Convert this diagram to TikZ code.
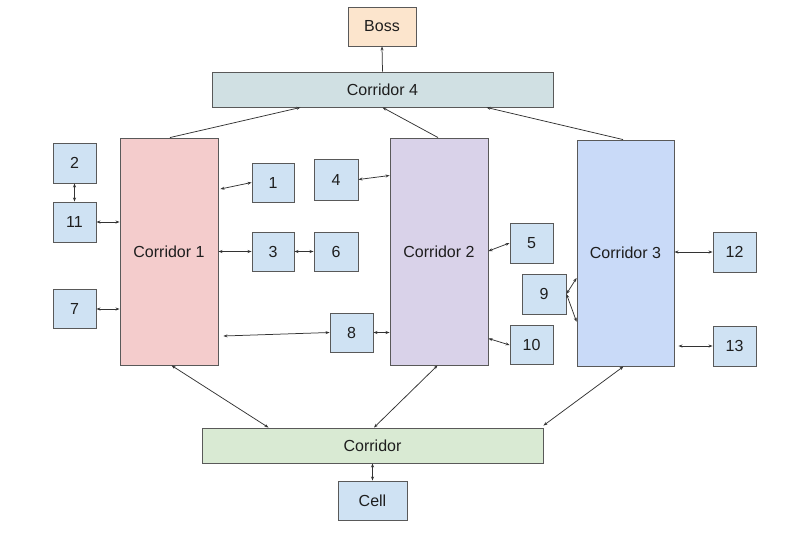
\documentclass[tikz,border=0pt]{standalone}
\usepackage{fontspec}
\setmainfont{Liberation Sans}
\usetikzlibrary{arrows.meta,calc}
\definecolor{bordc}{HTML}{595959}
\definecolor{txtc}{HTML}{1E1E1E}
\definecolor{linec}{HTML}{333333}
\definecolor{pinkc}{HTML}{F4CCCC}
\definecolor{purpc}{HTML}{D9D2E9}
\definecolor{bluec}{HTML}{C9DAF8}
\definecolor{roomc}{HTML}{CFE2F3}
\definecolor{bossc}{HTML}{FCE5CD}
\definecolor{cfourc}{HTML}{D0E0E3}
\definecolor{greenc}{HTML}{D9EAD3}
\tikzset{
  box/.style={draw=bordc, line width=0.9pt, inner sep=0pt, text=txtc,
    font=\fontsize{16}{19}\selectfont},
  room/.style={box, fill=roomc},
  conn/.style={draw=linec, line width=0.75pt, {Stealth[length=4pt,width=3pt]}-{Stealth[length=4pt,width=3pt]}},
  conto/.style={draw=linec, line width=0.75pt, -{Stealth[length=4pt,width=3pt]}}
}
\begin{document}
\begin{tikzpicture}[x=1pt,y=-1pt]
\useasboundingbox (0,0) rectangle (795,544);
% big boxes
\node[box, fill=bossc, minimum width=68pt, minimum height=39pt] (boss) at (382,26.5) {Boss};
\node[box, fill=cfourc, minimum width=341pt, minimum height=35pt] (c4) at (382.5,89.5) {Corridor 4};
\node[box, fill=pinkc, minimum width=98pt, minimum height=227pt] (c1) at (169,251.5) {Corridor 1};
\node[box, fill=purpc, minimum width=98pt, minimum height=227pt] (c2) at (439,251.5) {Corridor 2};
\node[box, fill=bluec, minimum width=97pt, minimum height=226pt] (c3) at (625.5,253) {Corridor 3};
\node[box, fill=greenc, minimum width=341pt, minimum height=35pt] (corr) at (372.5,445.5) {Corridor};
\node[room, minimum width=69pt, minimum height=39pt] (cell) at (372.5,500.5) {Cell};
% rooms
\node[room, minimum width=43pt, minimum height=40pt] (n2) at (74.5,163) {2};
\node[room, minimum width=43pt, minimum height=40pt] (n11) at (74.5,222) {11};
\node[room, minimum width=43pt, minimum height=39pt] (n7) at (74.5,309) {7};
\node[room, minimum width=42pt, minimum height=39pt] (n1) at (273,182.5) {1};
\node[room, minimum width=44pt, minimum height=41pt] (n4) at (336,179.5) {4};
\node[room, minimum width=42pt, minimum height=39pt] (n3) at (273,251.5) {3};
\node[room, minimum width=44pt, minimum height=39pt] (n6) at (336,251.5) {6};
\node[room, minimum width=43pt, minimum height=40pt] (n5) at (531.5,243) {5};
\node[room, minimum width=44pt, minimum height=40pt] (n9) at (544,294) {9};
\node[room, minimum width=43pt, minimum height=39pt] (n10) at (531.5,345) {10};
\node[room, minimum width=43pt, minimum height=39pt] (n8) at (351.5,332.5) {8};
\node[room, minimum width=43pt, minimum height=40pt] (n12) at (734.5,252) {12};
\node[room, minimum width=43pt, minimum height=40pt] (n13) at (734.5,346) {13};
% connectors to corridor 4 / boss
\draw[conto] (c4.north) -- (boss.south);
\draw[conto] ([xshift=1pt]c1.north) -- ([xshift=-82pt]c4.south);
\draw[conto] ([xshift=-1pt]c2.north) -- (c4.south);
\draw[conto] ([xshift=-2.5pt]c3.north) -- ([xshift=104pt]c4.south);
% left rooms
\draw[conn] (n2.south) -- (n11.north);
\draw[conn] (n11.east) -- (n11.east -| c1.west);
\draw[conn] (n7.east) -- (n7.east -| c1.west);
% between corridor 1 and 2
\draw[conn] ([xshift=2pt,yshift=62.5pt]c1.east) -- (n1.west);
\draw[conn] (n4.east) -- ([yshift=76pt]c2.west);
\draw[conn] (n3.west -| c1.east) -- (n3.west);
\draw[conn] (n3.east) -- (n6.west);
\draw[conn] (n8.west) -- ([xshift=5pt,yshift=-84.5pt]c1.east);
\draw[conn] (n8.east) -- (n8.east -| c2.west);
% between corridor 2 and 3
\draw[conn] ([yshift=0.5pt]c2.east) -- (n5.west);
\draw[conn] ([yshift=-87pt]c2.east) -- (n10.west);
\draw[conn] (n9.east) -- ([yshift=-25pt]c3.west);
\draw[conn] (n9.east) -- ([yshift=-68.7pt]c3.west);
% right rooms
\draw[conn] (n12.west -| c3.east) -- (n12.west);
\draw[conn] ($(c3.east |- n13.west)+(4,0)$) -- (n13.west);
% bottom corridor
\draw[conn] ([xshift=2.5pt]c1.south) -- ([xshift=-104pt]corr.north);
\draw[conn] ([xshift=-1.5pt]c2.south) -- ([xshift=1.5pt]corr.north);
\draw[conn] ([xshift=-2pt]c3.south) -- ([yshift=2pt]corr.north east);
\draw[conn] (corr.south) -- (cell.north);
\end{tikzpicture}
\end{document}
